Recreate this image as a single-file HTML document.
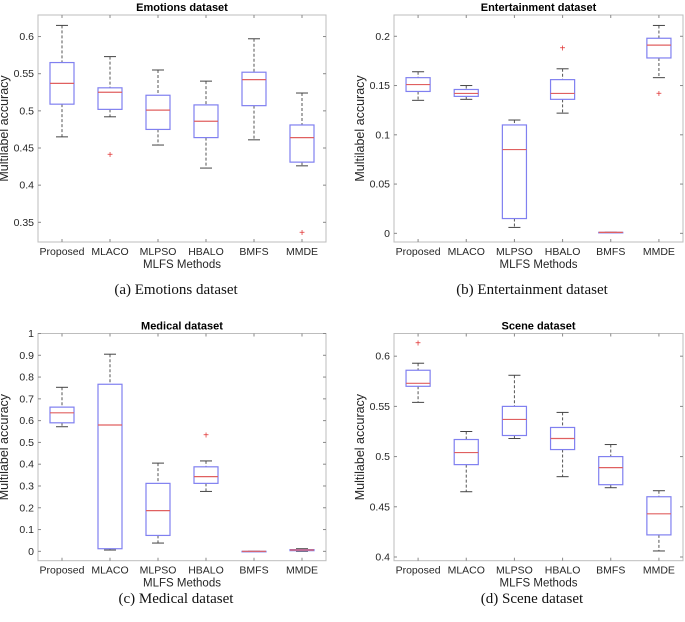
<!DOCTYPE html>
<html><head><meta charset="utf-8"><style>
body{margin:0;background:#fff;width:685px;height:617px;overflow:hidden}
svg text{font-family:"Liberation Sans",sans-serif;fill:#262626}
.cap{font-family:"Liberation Serif",serif;font-size:15px;fill:#111}
</style></head><body>
<svg id="s" width="685" height="617"></svg>
<script>
const categories=["Proposed","MLACO","MLPSO","HBALO","BMFS","MMDE"];
// each row: [whiskerHigh, q3, median, q1, whiskerLow]
const emoStats=[[.615,.565,.537,.509,.465],[.573,.531,.525,.502,.492],[.555,.521,.501,.475,.454],[.540,.508,.486,.464,.423],[.597,.552,.542,.507,.461],[.524,.481,.464,.431,.426]];
const emoOut=[[],[.441],[],[],[],[.336]];
const emoTicks=[0.35,0.4,0.45,0.5,0.55,0.6];
const entStats=[[.164,.158,.151,.144,.135],[.150,.146,.142,.139,.136],[.115,.110,.085,.015,.006],[.167,.156,.142,.136,.122],[.001,.001,.001,.001,.001],[.211,.198,.191,.178,.158]];
const entOut=[[],[],[],[.188],[],[.142]];
const entTicks=[0,0.05,0.1,0.15,0.2];
const medStats=[[.753,.662,.636,.590,.572],[.905,.767,.580,.012,.006],[.405,.312,.187,.073,.038],[.415,.388,.343,.312,.275],[0,0,0,0,0],[.012,.008,.006,.003,0]];
const medOut=[[],[],[],[.533],[],[]];
const medTicks=[0,0.1,0.2,0.3,0.4,0.5,0.6,0.7,0.8,0.9,1];
const sceStats=[[.593,.586,.573,.570,.554],[.525,.517,.504,.492,.465],[.581,.550,.537,.521,.518],[.544,.529,.518,.507,.480],[.512,.500,.489,.472,.469],[.466,.460,.443,.422,.406]];
const sceOut=[[.613],[],[],[],[],[]];
const sceTicks=[0.4,0.45,0.5,0.55,0.6];

const NS="http://www.w3.org/2000/svg";
const svg=document.getElementById('s');
function mk(tag,attrs,parent,txt){const e=document.createElementNS(NS,tag);for(const k in attrs)e.setAttribute(k,attrs[k]);if(txt!==undefined)e.textContent=txt;(parent||svg).appendChild(e);return e;}

function panel(key,L,R,T,B,ymin,ymax,ticks,stats,outs,title,caption,capX,capY){
  const g=mk('g',{});
  
  
  const y=v=>B-(v-ymin)/(ymax-ymin)*(B-T);
  const x=i=>L+(i+0.5)/6*(R-L);
  const bw=(R-L)/6*0.5;
  const ax=mk('rect',{x:L,y:T,width:R-L,height:B-T,fill:'#fff',stroke:'#bdbdbd','stroke-width':1},g);
  
  
  const tt=mk('text',{x:(L+R)/2,y:T-4,'text-anchor':'middle','font-size':11,'font-weight':'bold',style:'fill:#000'},g,title);
  
  
  ticks.forEach(t=>{
    const yy=y(t);
    mk('line',{x1:L,x2:L+3,y1:yy,y2:yy,stroke:'#888'},g);
    mk('line',{x1:R-3,x2:R,y1:yy,y2:yy,stroke:'#888'},g);
    const tl=mk('text',{x:L-4,y:yy+3.5,'text-anchor':'end','font-size':10.5},g,String(t));
    
    
  });
  categories.forEach((c,i)=>{
    const xx=x(i);
    mk('line',{x1:xx,x2:xx,y1:B,y2:B-3,stroke:'#888'},g);
    mk('line',{x1:xx,x2:xx,y1:T,y2:T+3,stroke:'#888'},g);
    const cl=mk('text',{x:xx,y:B+13,'text-anchor':'middle','font-size':10.5},g,c);
    
    
    const s=stats[i];
    const bg=mk('g',{},g);
    
    
    mk('line',{x1:xx,x2:xx,y1:y(s[0]),y2:y(s[1]),stroke:'#555','stroke-dasharray':'3,2'},bg);
    mk('line',{x1:xx,x2:xx,y1:y(s[3]),y2:y(s[4]),stroke:'#555','stroke-dasharray':'3,2'},bg);
    mk('line',{x1:xx-bw/4,x2:xx+bw/4,y1:y(s[0]),y2:y(s[0]),stroke:'#444'},bg);
    mk('line',{x1:xx-bw/4,x2:xx+bw/4,y1:y(s[4]),y2:y(s[4]),stroke:'#444'},bg);
    mk('rect',{x:xx-bw/2,y:y(s[1]),width:bw,height:Math.max(0.5,y(s[3])-y(s[1])),fill:'none',stroke:'#8080f0','stroke-width':1.2},bg);
    mk('line',{x1:xx-bw/2,x2:xx+bw/2,y1:y(s[2]),y2:y(s[2]),stroke:'#e06060','stroke-width':1.2},bg);
    outs[i].forEach(o=>{
      const ot=mk('text',{x:xx,y:y(o)+3.5,'text-anchor':'middle','font-size':10,style:'fill:#e03030'},bg,'+');
      
      
    });
  });
  const xl=mk('text',{x:(L+R)/2,y:B+26,'text-anchor':'middle','font-size':11.5},g,'MLFS Methods');
  
  
  const yl=mk('text',{x:0,y:0,'text-anchor':'middle','font-size':12.5,transform:`translate(${L-30},${(T+B)/2}) rotate(-90)`},g,'Multilabel accuracy');
  
  
  const cp=mk('text',{x:capX,y:capY,'text-anchor':'middle',class:'cap'},g,caption);
  
  
}
panel('emotions',38,326,15,242,0.3235,0.629,emoTicks,emoStats,emoOut,'Emotions dataset','(a) Emotions dataset',176,294);
panel('entertainment',394,683,15,242,-0.0088,0.2216,entTicks,entStats,entOut,'Entertainment dataset','(b) Entertainment dataset',532,294);
panel('medical',38,326,333.5,560.7,-0.043,1.0,medTicks,medStats,medOut,'Medical dataset','(c) Medical dataset',176,603);
panel('scene',394,683,333.5,560.7,0.3963,0.6226,sceTicks,sceStats,sceOut,'Scene dataset','(d) Scene dataset',532,603);
</script>
</body></html>
